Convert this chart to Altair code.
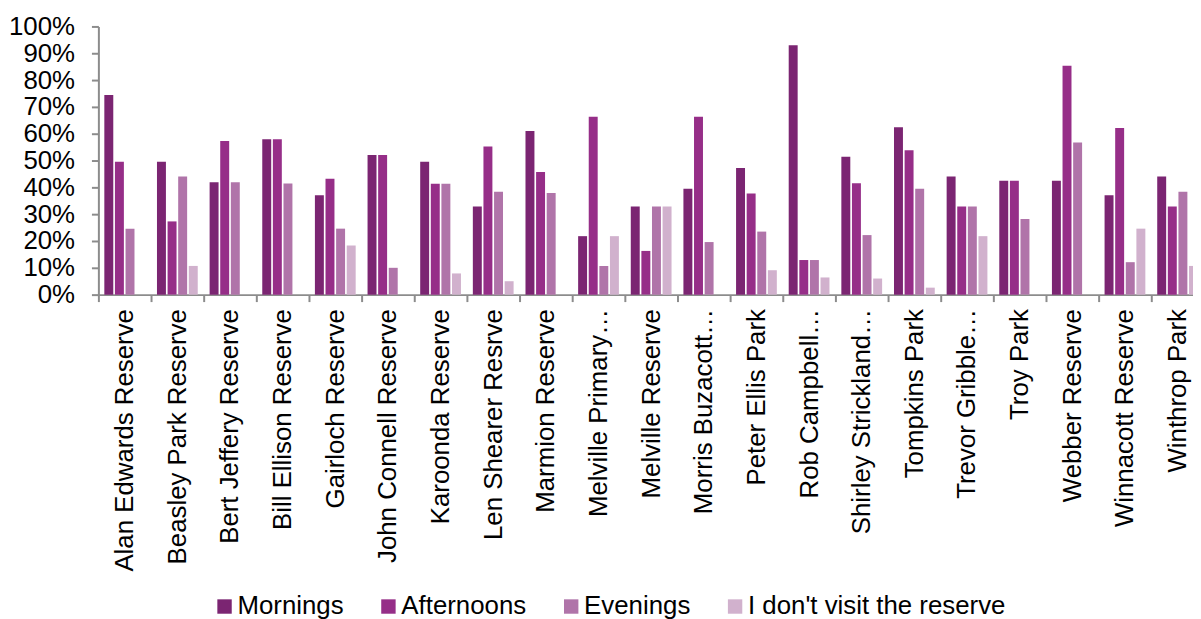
import altair as alt
import pandas as pd

reserves = [
    "Alan Edwards Reserve", "Beasley Park Reserve", "Bert Jeffery Reserve",
    "Bill Ellison Reserve", "Gairloch Reserve", "John Connell Reserve",
    "Karoonda Reserve", "Len Shearer Resrve", "Marmion Reserve",
    "Melville Primary…", "Melville Reserve", "Morris Buzacott…",
    "Peter Ellis Park", "Rob Campbell…", "Shirley Strickland…",
    "Tompkins Park", "Trevor Gribble…", "Troy Park", "Webber Reserve",
    "Winnacott Reserve", "Winthrop Park",
]
series = ["Mornings", "Afternoons", "Evenings", "I don't visit the reserve"]
colors = ["#7B2572", "#962E88", "#B074A9", "#D1B1CD"]

mornings = [0.744, 0.495, 0.419, 0.579, 0.371, 0.521, 0.495, 0.329, 0.610, 0.218, 0.329,
            0.395, 0.472, 0.930, 0.514, 0.624, 0.440, 0.425, 0.425, 0.371, 0.440]
afternoons = [0.495, 0.273, 0.573, 0.579, 0.432, 0.521, 0.413, 0.552, 0.457, 0.663, 0.163,
              0.663, 0.377, 0.129, 0.415, 0.538, 0.329, 0.425, 0.853, 0.621, 0.329]
evenings = [0.246, 0.440, 0.419, 0.414, 0.246, 0.100, 0.413, 0.384, 0.379, 0.107, 0.329,
            0.196, 0.235, 0.129, 0.222, 0.395, 0.329, 0.282, 0.567, 0.121, 0.384]
no_visit = [0.0, 0.107, 0.0, 0.0, 0.183, 0.0, 0.079, 0.050, 0.0, 0.218, 0.329,
            0.0, 0.091, 0.064, 0.060, 0.026, 0.218, 0.0, 0.0, 0.246, 0.107]

y_ticks = [0, 0.1, 0.2, 0.3, 0.4, 0.5, 0.6, 0.7, 0.8, 0.9, 1.0]

rows = []
for name, vals in zip(series, [mornings, afternoons, evenings, no_visit]):
    for r, v in zip(reserves, vals):
        rows.append({"reserve": r, "series": name, "value": v})
df = pd.DataFrame(rows)

FONT = "Liberation Sans"
AXIS_GREY = "#8C8C8C"

chart = alt.Chart(df).mark_bar().encode(
    x=alt.X(
        "reserve:N", sort=reserves,
        scale=alt.Scale(range=[0, 1113], paddingInner=0, paddingOuter=0),
        axis=alt.Axis(
            title=None, labelAngle=-90, tickBand="extent", labelFont=FONT,
            labelFontSize=26, labelColor="#000000", labelPadding=7, tickSize=7,
            labelLimit=400,
        ),
    ),
    xOffset=alt.XOffset(
        "series:N", sort=series,
        scale=alt.Scale(paddingInner=0.156, paddingOuter=0.56),
    ),
    y=alt.Y(
        "value:Q", scale=alt.Scale(domain=[0, 1]),
        axis=alt.Axis(
            title=None, format=".0%", values=y_ticks, grid=False, labelFont=FONT,
            labelFontSize=26, labelColor="#000000", labelPadding=17, tickSize=7,
        ),
    ),
    color=alt.Color(
        "series:N", sort=series,
        scale=alt.Scale(domain=series, range=colors),
        legend=alt.Legend(
            title=None, orient="none", legendX=114, legendY=571,
            direction="horizontal", symbolType="square", symbolSize=210,
            symbolStrokeWidth=0, labelFont=FONT, labelFontSize=26,
            labelColor="#000000", labelOffset=0, columnPadding=32, padding=0,
            labelLimit=500,
        ),
    ),
).properties(
    width=1102, height=270,
    autosize=alt.AutoSizeParams(type="none"),
    padding={"left": 91, "top": 16.5, "right": 0, "bottom": 324.5},
).configure_view(stroke=None).configure_axis(
    domainColor=AXIS_GREY, domainWidth=2, tickColor=AXIS_GREY, tickWidth=2,
)

chart.save("out.html", embed_options={"renderer": "svg", "actions": False})
